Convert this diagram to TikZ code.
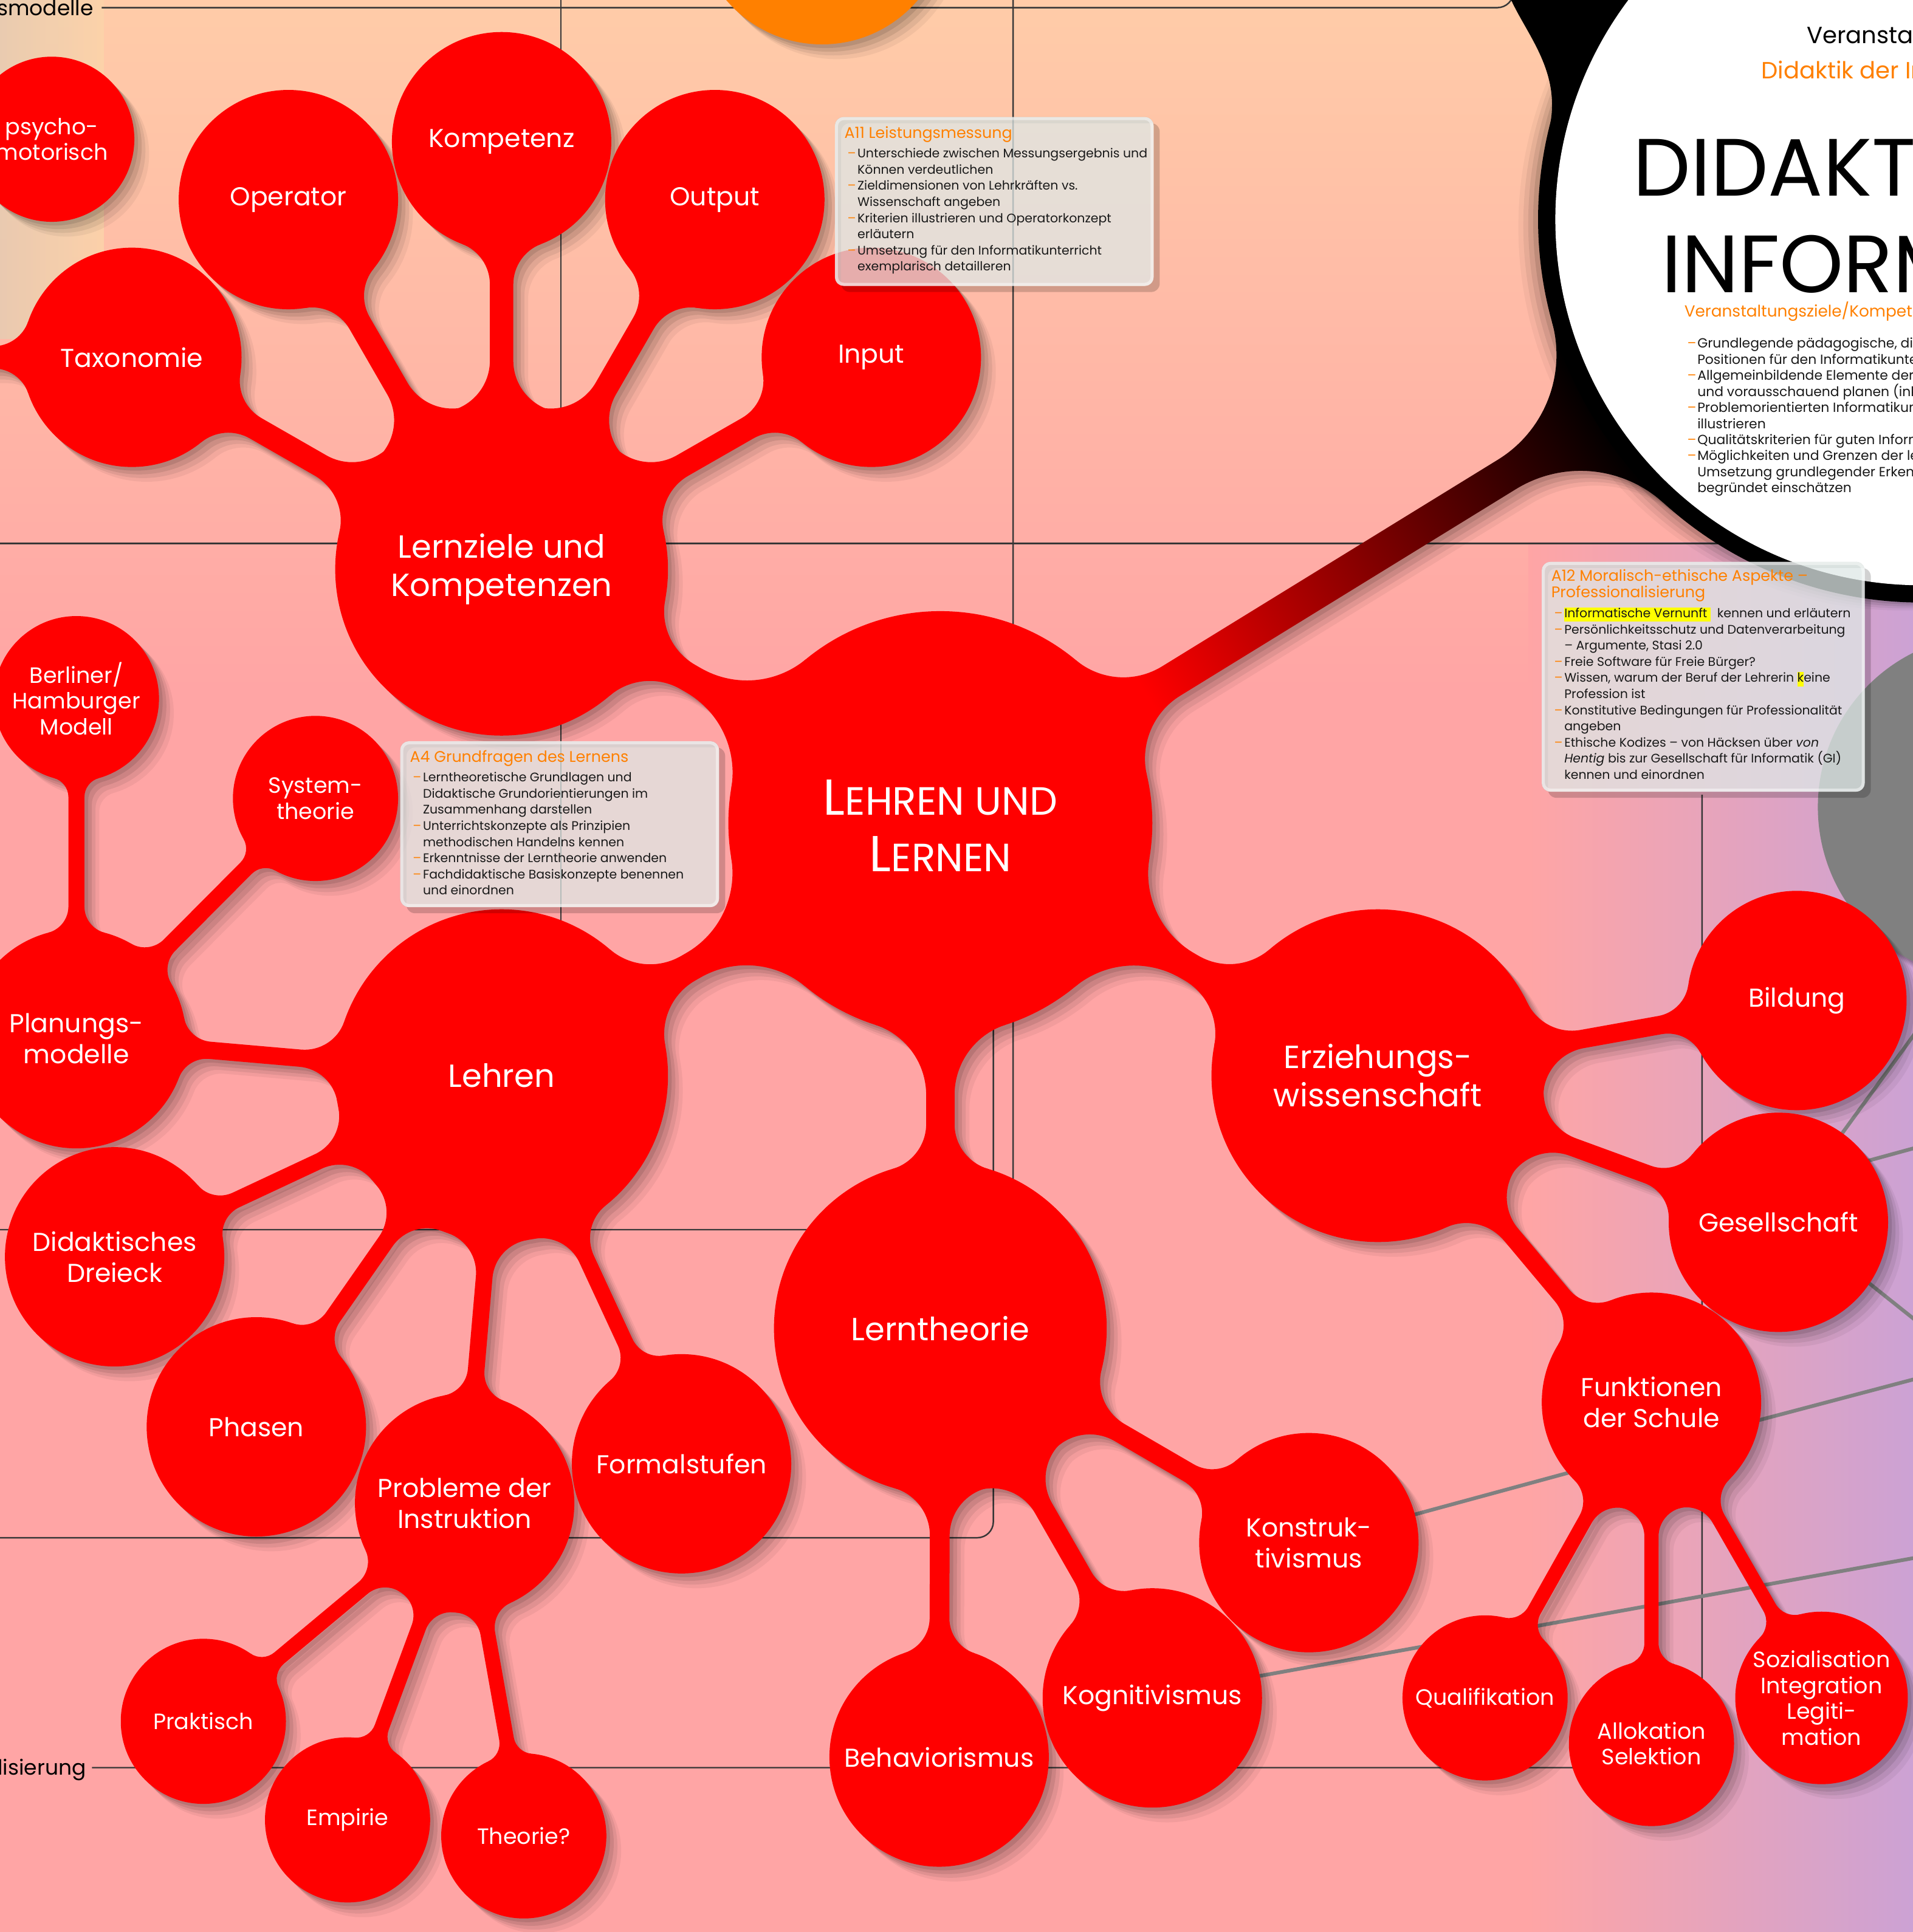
\documentclass[tikz,border=0pt]{standalone}
\usepackage{fontspec}
\setmainfont{Poppins}
\usetikzlibrary{calc}
\definecolor{bgpeach}{RGB}{255,204,168}
\definecolor{bgpink}{RGB}{255,165,165}
\definecolor{bgpurple}{RGB}{204,162,212}
\definecolor{striptan}{RGB}{230,204,178}
\definecolor{stripr}{RGB}{252,212,170}
\definecolor{netred}{RGB}{255,0,0}
\definecolor{dorange}{RGB}{255,128,0}
\definecolor{framegray}{RGB}{55,55,55}
\definecolor{lgray}{RGB}{128,128,128}
\definecolor{boxfill}{RGB}{222,232,230}
\definecolor{txtdark}{RGB}{25,25,25}
\definecolor{hlyellow}{RGB}{255,255,0}

\def\netpath{}
\def\redfills{}
\newcommand\pathtext[1]{(#1-1) .. controls (#1-2) and (#1-3) .. (#1-4) -- (#1-5) .. controls (#1-6) and (#1-7) .. (#1-8) -- (#1-8m) .. controls (#1-7m) and (#1-6m) .. (#1-5m) -- (#1-4m) .. controls (#1-3m) and (#1-2m) .. (#1-1m) -- cycle }

\newcommand\mkstem[6]{%
  \pgfpointanchor{#2}{center}\pgfgetlastxy{\mqAx}{\mqAy}%
  \pgfpointanchor{#3}{center}\pgfgetlastxy{\mqBx}{\mqBy}%
  \edef\mqra{\csname rad@#2\endcsname}%
  \edef\mqrb{\csname rad@#3\endcsname}%
  \pgfmathsetmacro\mqang{atan2((\mqBy)-(\mqAy),(\mqBx)-(\mqAx))}%
  \pgfmathsetmacro\mqd{100*veclen(((\mqBx)-(\mqAx))/100,((\mqBy)-(\mqAy))/100)}%
  \pgfmathsetmacro\mqh{#4/2}%
  \pgfmathsetmacro\mqRA{#5}%
  \pgfmathsetmacro\mqRB{#6}%
  \loop
    \pgfmathsetmacro\mqcA{10*sqrt(((\mqra+\mqRA)/10)^2-((\mqh+\mqRA)/10)^2)}%
    \pgfmathsetmacro\mqcB{10*sqrt(((\mqrb+\mqRB)/10)^2-((\mqh+\mqRB)/10)^2)}%
    \pgfmathtruncatemacro\mqbad{(\mqcA+\mqcB>\mqd-1)?1:0}%
  \ifnum\mqbad=1
    \pgfmathsetmacro\mqRA{\mqRA*0.9}%
    \pgfmathsetmacro\mqRB{\mqRB*0.9}%
  \repeat
  \pgfmathsetmacro\mqdA{atan2(\mqh+\mqRA,\mqcA)}%
  \pgfmathsetmacro\mqdB{atan2(\mqh+\mqRB,\mqcB)}%
  \pgfmathsetmacro\mqkA{4/3*tan((90-\mqdA)/4)*\mqRA}%
  \pgfmathsetmacro\mqkB{4/3*tan((90-\mqdB)/4)*\mqRB}%
  \pgfmathsetmacro\mqpAx{\mqra/(\mqra+\mqRA)*\mqcA}%
  \pgfmathsetmacro\mqpAy{\mqra/(\mqra+\mqRA)*(\mqh+\mqRA)}%
  \pgfmathsetmacro\mqqAx{\mqpAx+\mqkA*sin(\mqdA)}%
  \pgfmathsetmacro\mqqAy{\mqpAy-\mqkA*cos(\mqdA)}%
  \pgfmathsetmacro\mqrAx{\mqcA-\mqkA}%
  \pgfmathsetmacro\mqnB{\mqd-\mqcB}%
  \pgfmathsetmacro\mqrBx{\mqnB+\mqkB}%
  \pgfmathsetmacro\mqpBx{\mqd-\mqrb/(\mqrb+\mqRB)*\mqcB}%
  \pgfmathsetmacro\mqpBy{\mqrb/(\mqrb+\mqRB)*(\mqh+\mqRB)}%
  \pgfmathsetmacro\mqqBx{\mqpBx-\mqkB*sin(\mqdB)}%
  \pgfmathsetmacro\mqqBy{\mqpBy-\mqkB*cos(\mqdB)}%
  \pgfmathsetmacro\mqpAyN{-1*(\mqpAy)}%
  \pgfmathsetmacro\mqqAyN{-1*(\mqqAy)}%
  \pgfmathsetmacro\mqhN{-1*(\mqh)}%
  \pgfmathsetmacro\mqpByN{-1*(\mqpBy)}%
  \pgfmathsetmacro\mqqByN{-1*(\mqqBy)}%
  \begin{scope}[shift={(\mqAx,\mqAy)},rotate=\mqang]
    \coordinate (#1-1) at (\mqpAx pt,\mqpAy pt);
    \coordinate (#1-2) at (\mqqAx pt,\mqqAy pt);
    \coordinate (#1-3) at (\mqrAx pt,\mqh pt);
    \coordinate (#1-4) at (\mqcA pt,\mqh pt);
    \coordinate (#1-5) at (\mqnB pt,\mqh pt);
    \coordinate (#1-6) at (\mqrBx pt,\mqh pt);
    \coordinate (#1-7) at (\mqqBx pt,\mqqBy pt);
    \coordinate (#1-8) at (\mqpBx pt,\mqpBy pt);
    \coordinate (#1-1m) at (\mqpAx pt,\mqpAyN pt);
    \coordinate (#1-2m) at (\mqqAx pt,\mqqAyN pt);
    \coordinate (#1-3m) at (\mqrAx pt,\mqhN pt);
    \coordinate (#1-4m) at (\mqcA pt,\mqhN pt);
    \coordinate (#1-5m) at (\mqnB pt,\mqhN pt);
    \coordinate (#1-6m) at (\mqrBx pt,\mqhN pt);
    \coordinate (#1-7m) at (\mqqBx pt,\mqqByN pt);
    \coordinate (#1-8m) at (\mqpBx pt,\mqpByN pt);
  \end{scope}%
  \xdef\netpath{\unexpanded\expandafter{\netpath}\pathtext{#1}}%
}
\newcommand\rstem[6]{\mkstem{#1}{#2}{#3}{#4}{#5}{#6}\xdef\redfills{\unexpanded\expandafter{\redfills}\noexpand\fill[netred]\pathtext{#1};}}
\newcommand\defbub[4]{\coordinate (#1) at (#2,#3);\expandafter\xdef\csname rad@#1\endcsname{#4}\xdef\netpath{\unexpanded\expandafter{\netpath} (#1) circle (#4) }\xdef\redfills{\unexpanded\expandafter{\redfills}\noexpand\fill[netred] (#1) circle (#4);}}
\newcommand\defghost[4]{\coordinate (#1) at (#2,#3);\expandafter\xdef\csname rad@#1\endcsname{#4}}

\newlength\dshw
\setlength\dshw{10.6pt}
\newcommand\bl[1]{\hbox{\makebox[\dshw][l]{\hspace{2.4pt}\textcolor{dorange}{–}}#1}}
\newcommand\cl[1]{\hbox{\hspace{\dshw}#1}}
\newcommand\tl[1]{\hbox{\fontsize{12.5}{13.1}\selectfont\textcolor{dorange}{#1}}}
\newcommand\lns[2]{\vtop{\baselineskip=#1\lineskiplimit=-100pt\lineskip=0pt\relax #2}}
\newcommand\hl[1]{{\setlength\fboxsep{0pt}\colorbox{hlyellow}{\rule[-3.3pt]{0pt}{11.5pt}#1}}}
\newcommand\infobox[4]{%
  \fill[black,opacity=0.18,rounded corners=7,even odd rule] (#1+5,#2+5) rectangle (#3+5,#4+5) (#1,#2) rectangle (#3,#4);
  \fill[boxfill,opacity=0.75,rounded corners=7] (#1,#2) rectangle (#3,#4);
  \draw[white,opacity=0.45,line width=2.5pt,rounded corners=6] (#1+1.2,#2+1.2) rectangle (#3-1.2,#4-1.2);}

\tikzset{
  frameline/.style={draw=framegray,line width=1.2pt},
  gline/.style={draw=lgray,line width=3pt},
  btxt/.style={text=white,align=center,inner sep=0pt},
  bigt/.style={btxt,font=\fontsize{26}{31}\selectfont},
  midt/.style={btxt,font=\fontsize{21}{25}\selectfont},
  smt/.style={btxt,font=\fontsize{18}{21}\selectfont},
  boxt/.style={anchor=base west,inner sep=0pt,text=txtdark,font=\fontsize{10.1}{13.1}\selectfont},
}

\begin{document}
\begin{tikzpicture}[x=1pt,y=-1pt]
\useasboundingbox (0,0) rectangle (1552,1568);
% ---------- geometry ----------
\defbub{lul}{763}{668}{172}
\defbub{lernziele}{407}{462}{135}
\defbub{lehren}{407}{873}{135}
\defbub{erz}{1118}{873}{135}
\defbub{lerntheorie}{763}{1078}{135}
\defbub{kompetenz}{407}{115}{89}
\defbub{operator}{234}{162}{89}
\defbub{output}{580}{162}{89}
\defbub{taxonomie}{107}{290}{89}
\defbub{input}{707}{290}{89}
\defbub{psycho}{42}{113}{67}
\defbub{berliner}{62}{567}{67}
\defbub{systemth}{256}{648}{67}
\defbub{planung}{62}{843}{89}
\defbub{didakt}{93}{1020}{89}
\defbub{phasen}{208}{1158}{89}
\defbub{probleme}{377}{1220}{89}
\defbub{formal}{553}{1188}{89}
\defbub{praktisch}{165}{1397}{67}
\defbub{empirie}{282}{1477}{67}
\defbub{theorie}{425}{1490}{67}
\defbub{behav}{762}{1426}{89}
\defbub{kogn}{935}{1378}{89}
\defbub{konstr}{1062}{1252}{89}
\defbub{bildung}{1458}{812}{89}
\defbub{gesell}{1443}{992}{89}
\defbub{funkt}{1340}{1138}{89}
\defbub{quali}{1205}{1378}{67}
\defbub{allok}{1340}{1415}{67}
\defbub{sozial}{1478}{1378}{70}
\defghost{taxoff}{-170}{290}{89}
\defghost{title}{1559}{178}{311}
\rstem{s1}{lul}{lernziele}{23}{75}{50}
\rstem{s2}{lul}{lehren}{23}{75}{50}
\rstem{s3}{lul}{erz}{23}{75}{50}
\rstem{s4}{lul}{lerntheorie}{23}{60}{38}
\rstem{s5}{lernziele}{kompetenz}{19}{42}{35}
\rstem{s6}{lernziele}{operator}{19}{42}{35}
\rstem{s7}{lernziele}{output}{19}{42}{35}
\rstem{s8}{lernziele}{taxonomie}{19}{42}{35}
\rstem{s9}{lernziele}{input}{19}{42}{35}
\rstem{s10}{taxonomie}{taxoff}{18}{30}{30}
\rstem{s11}{lehren}{planung}{14}{34}{24}
\rstem{s12}{lehren}{didakt}{13}{34}{24}
\rstem{s13}{lehren}{phasen}{13.5}{34}{24}
\rstem{s14}{lehren}{probleme}{13.5}{34}{24}
\rstem{s15}{lehren}{formal}{13}{34}{24}
\rstem{s16}{planung}{berliner}{13}{22}{16}
\rstem{s17}{planung}{systemth}{13}{22}{16}
\rstem{s18}{probleme}{praktisch}{12}{22}{16}
\rstem{s19}{probleme}{empirie}{12}{22}{16}
\rstem{s20}{probleme}{theorie}{12}{22}{16}
\rstem{s21}{lerntheorie}{behav}{16}{40}{30}
\rstem{s22}{lerntheorie}{kogn}{16}{40}{30}
\rstem{s23}{lerntheorie}{konstr}{16}{40}{30}
\rstem{s24}{erz}{bildung}{15}{40}{30}
\rstem{s25}{erz}{gesell}{15}{40}{30}
\rstem{s26}{erz}{funkt}{15}{40}{30}
\rstem{s27}{funkt}{quali}{11.5}{24}{18}
\rstem{s28}{funkt}{allok}{11.5}{24}{18}
\rstem{s29}{funkt}{sozial}{11.5}{24}{18}
\mkstem{bk}{lul}{title}{28}{60}{100}
\xdef\bkpath{\pathtext{bk}}
\coordinate (orangec) at (667,-66);
\coordinate (grayc) at (1615,655);
\coordinate (gl1a) at (1488,929); \coordinate (gl1b) at (1590,789);
\coordinate (gl2a) at (1505,945); \coordinate (gl2b) at (1600,919);
\coordinate (gl3a) at (1506,1033); \coordinate (gl3b) at (1600,1108);
\coordinate (gl4a) at (1418,1155); \coordinate (gl4b) at (1600,1107);
\coordinate (gl5a) at (1141,1231); \coordinate (gl5b) at (1281,1193);
\coordinate (gl6a) at (1012,1362); \coordinate (gl6b) at (1600,1256);

% ---------- background ----------
\fill[bgpink] (0,0) rectangle (1552,1568);
\shade[top color=bgpeach,bottom color=bgpink] (0,0) rectangle (1552,560);
\shade[left color=bgpink,right color=bgpurple] (1240,440) rectangle (1552,1568);
\shade[left color=striptan,right color=stripr,opacity=0.85] (0,0) rectangle (84,275);

% ---------- frames ----------
\draw[frameline,rounded corners=13] (82.5,6.2) -- (1228,6.2) -- (1228,-40);
\draw[frameline] (455,-5) -- (455,760);
\draw[frameline] (0,441) -- (1552,441);
\draw[frameline,rounded corners=13] (822,-5) -- (822,998) -- (-5,998);
\draw[frameline,rounded corners=13] (806,600) -- (806,1248) -- (-5,1248);
\draw[frameline,rounded corners=13] (1381,645) -- (1381,1434.6) -- (74.7,1434.6);
\node[anchor=base east,inner sep=0pt,font=\fontsize{17}{17}\selectfont] (lab1) at (76,12.7) {Planungsmodelle};
\node[anchor=base east,inner sep=0pt,font=\fontsize{17}{17}\selectfont] (lab2) at (70,1440.7) {Professionalisierung};

% ---------- gray connectors and side circles ----------
\draw[gline] (gl1a) -- (gl1b);
\draw[gline] (gl2a) -- (gl2b);
\draw[gline] (gl3a) -- (gl3b);
\draw[gline] (gl4a) -- (gl4b);
\draw[gline] (gl5a) -- (gl5b);
\draw[gline] (gl6a) -- (gl6b);
\foreach \shoff/\shop in {3/0.10,6/0.09,9/0.07,12/0.05}{
  \begin{scope}[transform canvas={shift={(\shoff pt,-\shoff pt)}}]
    \fill[black,opacity=\shop] (grayc) circle (140) (orangec) circle (102);
  \end{scope}}
\fill[lgray] (grayc) circle (140);
\fill[dorange] (orangec) circle (102);

% ---------- shadows ----------
\foreach \shoff/\shop in {3/0.10,6/0.09,9/0.07,12/0.05}{
  \begin{scope}[transform canvas={shift={(\shoff pt,-\shoff pt)}}]
    \fill[black,opacity=\shop] \netpath;
  \end{scope}}
\foreach \shoff/\shop in {4/0.10,8/0.08,12/0.06,16/0.04}{
  \begin{scope}[transform canvas={shift={(-\shoff pt,-0.4*\shoff pt)}}]
    \fill[black,opacity=\shop] (title) circle (311);
  \end{scope}}

% ---------- title connector ----------
\shade[top color=black,bottom color=netred,shading angle=-58] \bkpath;

% ---------- red network ----------
\redfills

% ---------- title circle ----------
\fill[black] (title) circle (311);
\fill[black] (1224,-5) .. controls (1236,25) and (1266,55) .. (1258,100) -- (1450,100) -- (1450,-5) -- cycle;
\fill[white] (title) circle (297);
\node[anchor=base west,inner sep=0pt,font=\fontsize{19}{19}\selectfont] (t-ver) at (1466,35.2) {Veranstaltung};
\node[anchor=base west,inner sep=0pt,text=dorange,font=\fontsize{19}{19}\selectfont] (t-did) at (1429,64) {Didaktik der Informatik};
\node[anchor=base west,inner sep=0pt,font=\fontsize{66}{66}\selectfont] (t-big1) at (1325,159) {DIDAKTIK DER};
\node[anchor=base west,inner sep=0pt,font=\fontsize{66}{66}\selectfont] (t-big2) at (1348,237.6) {INFORMATIK};
\node[anchor=base west,inner sep=0pt,text=dorange,font=\fontsize{13}{13}\selectfont] (t-vz) at (1366.5,257) {Veranstaltungsziele/Kompetenzen};
\node[boxt,font=\fontsize{10.8}{13.05}\selectfont] (t-list) at (1366.5,282.4) {\lns{13.05pt}{%
\bl{Grundlegende pädagogische, didaktische und fachliche}
\cl{Positionen für den Informatikunterricht darstellen}
\bl{Allgemeinbildende Elemente der Informatik erkennen}
\cl{und vorausschauend planen (inkl. Unterrichtsmaterial)}
\bl{Problemorientierten Informatikunterricht planen und}
\cl{illustrieren}
\bl{Qualitätskriterien für guten Informatikunterricht nennen}
\bl{Möglichkeiten und Grenzen der lerntheoretischen}
\cl{Umsetzung grundlegender Erkenntnisse}
\cl{begründet einschätzen}}};

% ---------- info boxes ----------
\infobox{677.5}{95}{936}{232}
\node[boxt] (a11-t) at (685,112) {\lns{13.1pt}{\tl{A11 Leistungsmessung}\vskip3pt
\bl{Unterschiede zwischen Messungsergebnis und}
\cl{Können verdeutlichen}
\bl{Zieldimensionen von Lehrkräften vs.}
\cl{Wissenschaft angeben}
\bl{Kriterien illustrieren und Operatorkonzept}
\cl{erläutern}
\bl{Umsetzung für den Informatikunterricht}
\cl{exemplarisch detailleren}}};
\infobox{324.8}{601.6}{583.4}{736.2}
\node[boxt] (a4-t) at (332.4,618.4) {\lns{13.1pt}{\tl{A4 Grundfragen des Lernens}\vskip3pt
\bl{Lerntheoretische Grundlagen und}
\cl{Didaktische Grundorientierungen im}
\cl{Zusammenhang darstellen}
\bl{Unterrichtskonzepte als Prinzipien}
\cl{methodischen Handelns kennen}
\bl{Erkenntnisse der Lerntheorie anwenden}
\bl{Fachdidaktische Basiskonzepte benennen}
\cl{und einordnen}}};
\infobox{1251}{456}{1513}{642.5}
\node[boxt] (a12-t) at (1258.5,471.7) {\lns{13.1pt}{\tl{A12 Moralisch-ethische Aspekte –}\tl{Professionalisierung}\vskip3.4pt
\bl{\hl{Informatische Vernunft\ }\ \ kennen und erläutern}
\bl{Persönlichkeitsschutz und Datenverarbeitung}
\cl{– Argumente, Stasi 2.0}
\bl{Freie Software für Freie Bürger?}
\bl{Wissen, warum der Beruf der Lehrerin \hl{k}eine}
\cl{Profession ist}
\bl{Konstitutive Bedingungen für Professionalität}
\cl{angeben}
\bl{Ethische Kodizes – von Häcksen über \textit{von}}
\cl{\textit{Hentig} bis zur Gesellschaft für Informatik (GI)}
\cl{kennen und einordnen}}};

% ---------- bubble texts ----------
\node[btxt,font=\fontsize{32}{46}\selectfont] (lul-t) at (763,670) {{\fontsize{41}{46}\selectfont L}EHREN UND\\{\fontsize{41}{46}\selectfont L}ERNEN};
\node[bigt] (lernziele-t) at (lernziele) {Lernziele und\\Kompetenzen};
\node[bigt] (lehren-t) at (lehren) {Lehren};
\node[bigt] (erz-t) at (erz) {Erziehungs-\\wissenschaft};
\node[bigt] (lerntheorie-t) at (lerntheorie) {Lerntheorie};
\node[midt] (kompetenz-t) at (kompetenz) {Kompetenz};
\node[midt] (operator-t) at (operator) {Operator};
\node[midt] (output-t) at (output) {Output};
\node[midt] (taxonomie-t) at (taxonomie) {Taxonomie};
\node[midt] (input-t) at (input) {Input};
\node[smt] (psycho-t) at (psycho) {psycho-\\motorisch};
\node[smt] (berliner-t) at (berliner) {Berliner/\\Hamburger\\Modell};
\node[smt] (systemth-t) at (systemth) {System-\\theorie};
\node[midt] (planung-t) at (planung) {Planungs-\\modelle};
\node[midt] (didakt-t) at (didakt) {Didaktisches\\Dreieck};
\node[midt] (phasen-t) at (phasen) {Phasen};
\node[midt] (probleme-t) at (probleme) {Probleme der\\Instruktion};
\node[midt] (formal-t) at (formal) {Formalstufen};
\node[smt] (praktisch-t) at (praktisch) {Praktisch};
\node[smt] (empirie-t) at (empirie) {Empirie};
\node[smt] (theorie-t) at (theorie) {Theorie?};
\node[midt] (behav-t) at (behav) {Behaviorismus};
\node[midt] (kogn-t) at (kogn) {Kognitivismus};
\node[midt] (konstr-t) at (konstr) {Konstruk-\\tivismus};
\node[midt] (bildung-t) at (bildung) {Bildung};
\node[midt] (gesell-t) at (gesell) {Gesellschaft};
\node[midt] (funkt-t) at (funkt) {Funktionen\\der Schule};
\node[smt] (quali-t) at (quali) {Qualifikation};
\node[smt] (allok-t) at (allok) {Allokation\\Selektion};
\node[smt] (sozial-t) at (sozial) {Sozialisation\\Integration\\Legiti-\\mation};
\end{tikzpicture}
\end{document}
